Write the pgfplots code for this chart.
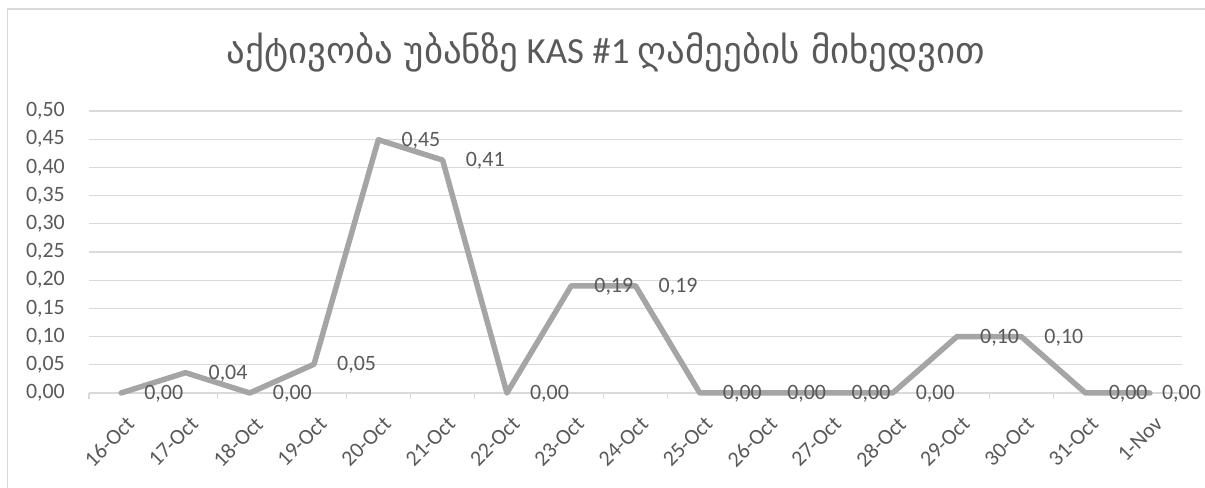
\documentclass[border=0pt]{standalone}
\usepackage{pgfplots}
\pgfplotsset{compat=1.18}
\usepackage{fontspec}
\setmainfont{Carlito}
\newfontfamily\geofont{DejaVu Sans}
\definecolor{txt}{HTML}{595959}
\definecolor{grd}{HTML}{D9D9D9}
\definecolor{ln}{HTML}{A5A5A5}
\begin{document}
\begin{tikzpicture}[x=1bp,y=1bp]
\path[use as bounding box] (0,0) rectangle (1205,488);
\draw[grd, line width=1.2bp] (7.5,0) -- (7.5,479) -- (1205,479);
\node[txt, font=\fontsize{37}{42}\selectfont] at (606,436) {{\geofont აქტივობა უბანზე} KAS \#1 {\geofont ღამეების მიხედვით}};
\begin{axis}[at={(89bp,95bp)}, anchor=south west, scale only axis,
  width=1093bp, height=282bp,
  xmin=-0.5, xmax=16.5, ymin=0, ymax=0.5,
  clip=false,
  axis lines*=left,
  axis line style={-, grd, line width=1.2bp},
  y axis line style={draw=none},
  tick align=outside,
  major tick length=0pt,
  minor tick length=6bp,
  xtick={0,...,16},
  xticklabels={16-Oct,17-Oct,18-Oct,19-Oct,20-Oct,21-Oct,22-Oct,23-Oct,24-Oct,25-Oct,26-Oct,27-Oct,28-Oct,29-Oct,30-Oct,31-Oct,1-Nov},
  minor xtick={-0.5,0.5,...,16.5},
  minor x tick style={grd, line width=1.2bp},
  ytick={0,0.05,...,0.51},
  ymajorgrids,
  major grid style={grd, line width=1.2bp},
  /pgf/number format/assume math mode=true,
  yticklabel style={/pgf/number format/.cd, fixed, fixed zerofill, precision=2, use comma, /tikz/.cd,
     font=\fontsize{22}{26}\selectfont, text=txt, inner sep=0pt, xshift=-24bp},
  xticklabel style={xshift=4bp, yshift=-22bp, rotate=45, anchor=north east, inner sep=0pt,
     font=\fontsize{22}{26}\selectfont, text=txt},
  every node near coord/.append style={anchor=west, inner sep=0pt, yshift=-1bp,
     font=\fontsize{22}{26}\selectfont, text=txt},
]
\addplot[ln, line width=5.5bp, line join=round, line cap=round, mark=none] coordinates {
(0,0) (1,0.036) (2,0) (3,0.051) (4,0.449) (5,0.413) (6,0) (7,0.19) (8,0.19)
(9,0) (10,0) (11,0) (12,0) (13,0.10) (14,0.10) (15,0) (16,0)
};
\addplot[draw=none, mark=none,
  nodes near coords={\pgfmathprintnumber[fixed,fixed zerofill,precision=2,use comma,assume math mode=true]{\pgfplotspointmeta}},
  nodes near coords style={xshift=23bp}] coordinates {
(0,0) (1,0.036) (2,0) (3,0.051) (4,0.449) (5,0.413) (6,0) (7,0.19) (8,0.19)
(9,0) (10,0) (11,0) (12,0) (13,0.10) (14,0.10) (15,0)
};
\addplot[draw=none, mark=none,
  nodes near coords={\pgfmathprintnumber[fixed,fixed zerofill,precision=2,use comma,assume math mode=true]{\pgfplotspointmeta}},
  nodes near coords style={xshift=12bp}] coordinates {
(16,0)
};
\end{axis}
\end{tikzpicture}
\end{document}
